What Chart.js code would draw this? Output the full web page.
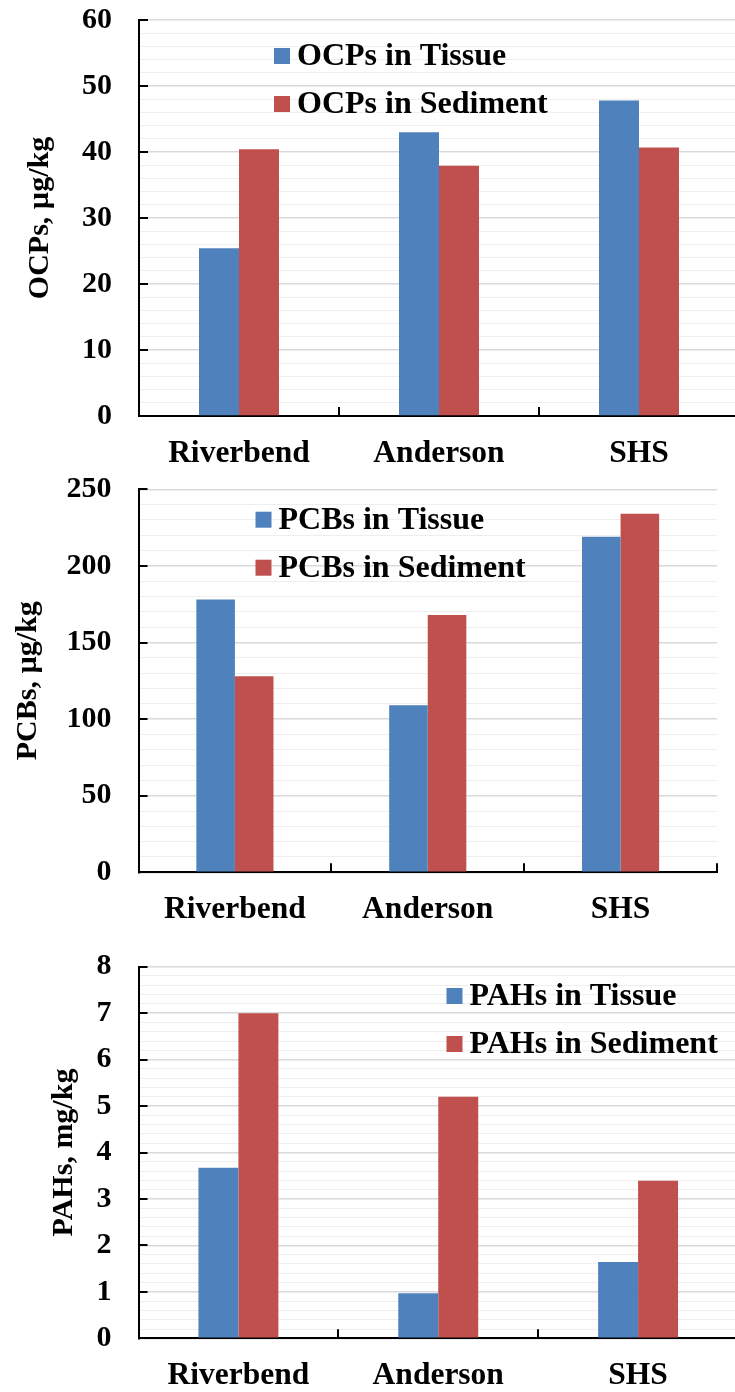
<!DOCTYPE html>
<html>
<head>
<meta charset="utf-8">
<script src="https://cdn.jsdelivr.net/npm/chart.js@4/dist/chart.umd.min.js"></script>
<style>
  html, body { margin: 0; padding: 0; background: #fff; overflow: hidden; width: 735px; height: 1392px; position: relative; }
  canvas { position: absolute; left: 0; }
</style>
</head>
<body>
<canvas id="ocp" width="745" height="470" style="top:0px"></canvas>
<canvas id="pcb" width="745" height="475" style="top:470px"></canvas>
<canvas id="pah" width="745" height="447" style="top:945px"></canvas>
<script>
// Sampling sites
const sites = ['Riverbend', 'Anderson', 'SHS'];

// Organochlorine pesticides, µg/kg
const ocpTissue = [25.4, 43.0, 47.8];
const ocpSediment = [40.4, 37.9, 40.7];

// Polychlorinated biphenyls, µg/kg
const pcbTissue = [178, 109, 219];
const pcbSediment = [128, 168, 234];

// Polycyclic aromatic hydrocarbons, mg/kg
const pahTissue = [3.67, 0.97, 1.64];
const pahSediment = [7.0, 5.2, 3.39];

// Y tick labels (major ticks)
const ocpTickLabels = ['0', '10', '20', '30', '40', '50', '60'];
const pcbTickLabels = ['0', '50', '100', '150', '200', '250'];
const pahTickLabels = ['0', '1', '2', '3', '4', '5', '6', '7', '8'];

const FONT = "'Liberation Serif', 'Times New Roman', serif";
const BLUE = '#4f81bd';
const RED = '#c0504d';

function isMajor(v, major) {
  const r = v / major;
  return Math.abs(r - Math.round(r)) < 1e-6;
}

// Legend drawn inside the plot area
const insideLegend = {
  id: 'insideLegend',
  afterDraw(chart, args, opts) {
    const { ctx, chartArea } = chart;
    ctx.save();
    ctx.font = `bold ${opts.size}px ${FONT}`;
    ctx.textBaseline = 'middle';
    ctx.textAlign = 'left';
    chart.data.datasets.forEach((ds, i) => {
      const x = chartArea.left + opts.x;
      const y = chartArea.top + opts.y + i * opts.gap;
      ctx.fillStyle = ds.backgroundColor;
      ctx.fillRect(x, y, opts.box, opts.box);
      ctx.fillStyle = '#000';
      ctx.fillText(ds.label, x + opts.box + 7, y + opts.box / 2 + 1);
    });
    ctx.restore();
  }
};

// Inward tick marks on both axes
const innerTicks = {
  id: 'innerTicks',
  afterDatasetsDraw(chart, args, opts) {
    const { ctx, chartArea, scales: { x, y } } = chart;
    ctx.save();
    ctx.strokeStyle = '#000';
    ctx.lineWidth = 2;
    ctx.beginPath();
    y.ticks.forEach(t => {
      if (isMajor(t.value, opts.major)) {
        const py = Math.round(y.getPixelForValue(t.value));
        ctx.moveTo(chartArea.left, py);
        ctx.lineTo(chartArea.left + 9, py);
      }
    });
    for (let i = 0; i < x.ticks.length; i++) {
      const px = Math.round(x.getPixelForValue(i + 0.5));
      ctx.moveTo(px, chartArea.bottom);
      ctx.lineTo(px, chartArea.bottom - 9);
    }
    ctx.stroke();
    ctx.restore();
  }
};

function makeChart(c) {
  const major = Number(c.tickLabels[1]);
  const max = Number(c.tickLabels[c.tickLabels.length - 1]);
  return new Chart(document.getElementById(c.id), {
    type: 'bar',
    data: {
      labels: sites,
      datasets: [
        { label: c.names[0], data: c.tissue, backgroundColor: BLUE },
        { label: c.names[1], data: c.sediment, backgroundColor: RED }
      ]
    },
    options: {
      responsive: false,
      animation: false,
      devicePixelRatio: 1,
      categoryPercentage: 0.4,
      barPercentage: 1.0,
      layout: { padding: { top: c.top, right: c.right, left: 0, bottom: 0 } },
      plugins: {
        legend: { display: false },
        tooltip: { enabled: false },
        insideLegend: c.legend,
        innerTicks: { major }
      },
      scales: {
        x: {
          grid: { display: false, drawTicks: false },
          border: { display: true, color: '#000', width: 2 },
          ticks: {
            color: '#000',
            padding: c.xPad,
            font: { family: FONT, size: 31.5, weight: 'bold' }
          },
          afterFit: s => { s.height = c.xHeight; }
        },
        y: {
          min: 0,
          max: max,
          grid: {
            drawTicks: true,
            tickLength: 27,
            tickColor: 'rgba(0,0,0,0)',
            color: ctx => isMajor(ctx.tick.value, major) ? '#d9d9d9' : '#eeeeee',
            lineWidth: ctx => isMajor(ctx.tick.value, major) ? 1.4 : 1
          },
          border: { display: true, color: '#000', width: 2 },
          ticks: {
            stepSize: c.minor,
            autoSkip: false,
            color: '#000',
            padding: 0,
            font: { family: FONT, size: 30, weight: 'bold' },
            callback: v => isMajor(v, major) ? c.tickLabels[Math.round(v / major)] : ''
          },
          title: {
            display: true,
            text: c.title,
            color: '#000',
            padding: { top: c.titlePad, bottom: 0 },
            font: { family: FONT, size: 30, weight: 'bold' }
          },
          afterFit: s => { s.width = c.yWidth; }
        }
      }
    },
    plugins: [insideLegend, innerTicks]
  });
}

makeChart({
  id: 'ocp', tissue: ocpTissue, sediment: ocpSediment,
  names: ['OCPs in Tissue', 'OCPs in Sediment'],
  title: 'OCPs, µg/kg', tickLabels: ocpTickLabels, minor: 2,
  top: 20, right: 6, xHeight: 54, yWidth: 139, xPad: 19, titlePad: 22,
  legend: { x: 135, y: 28, gap: 48, box: 16, size: 32 }
});

makeChart({
  id: 'pcb', tissue: pcbTissue, sediment: pcbSediment,
  names: ['PCBs in Tissue', 'PCBs in Sediment'],
  title: 'PCBs, µg/kg', tickLabels: pcbTickLabels, minor: 10,
  top: 19.3, right: 28, xHeight: 72.7, yWidth: 138.5, xPad: 19, titlePad: 10,
  legend: { x: 117, y: 22.4, gap: 48, box: 16, size: 32 }
});

makeChart({
  id: 'pah', tissue: pahTissue, sediment: pahSediment,
  names: ['PAHs in Tissue', 'PAHs in Sediment'],
  title: 'PAHs, mg/kg', tickLabels: pahTickLabels, minor: 0.2,
  top: 21.7, right: 7, xHeight: 53.7, yWidth: 138.5, xPad: 19, titlePad: 46,
  legend: { x: 308, y: 21.3, gap: 48, box: 16, size: 32 }
});
</script>
</body>
</html>
